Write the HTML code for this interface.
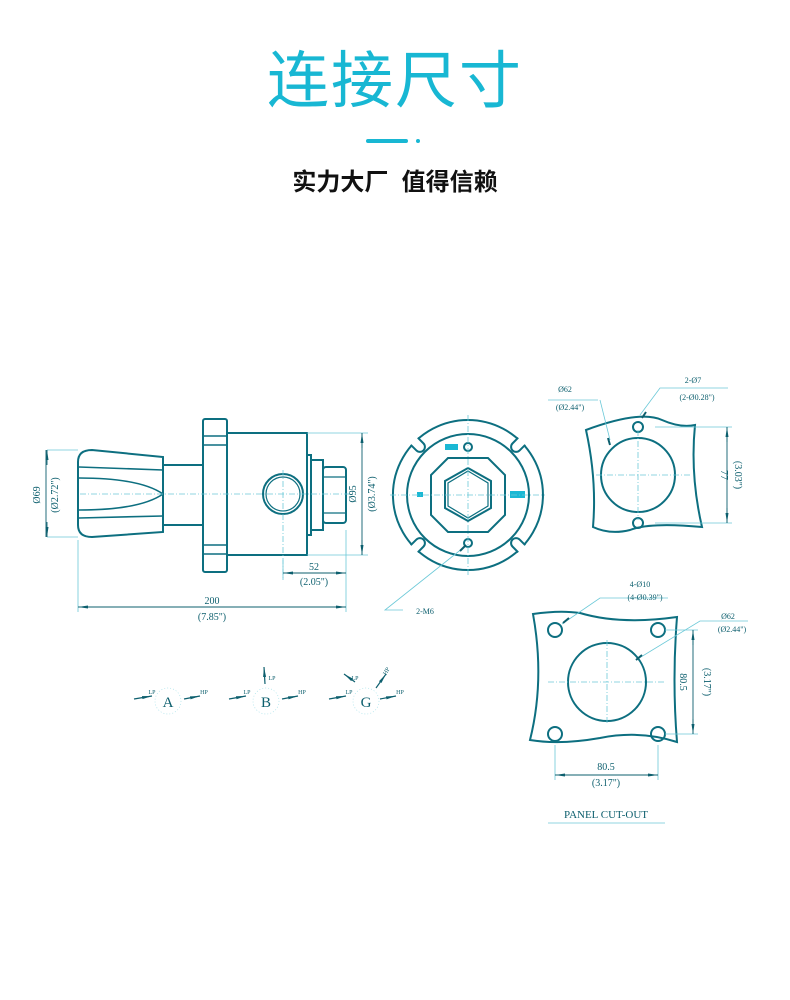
<!DOCTYPE html>
<html><head><meta charset="utf-8"><style>
html,body{margin:0;padding:0;background:#fff;}
body{width:790px;height:1000px;position:relative;overflow:hidden;}
.t{position:absolute;left:0;width:790px;text-align:center;font-family:"Liberation Sans","Noto Sans CJK SC",sans-serif;}
svg{position:absolute;left:0;top:0;}
</style></head><body>
<div class="t" style="top:46px;font-size:62px;color:#18b7d3;letter-spacing:2px;line-height:72px;">连接尺寸</div>
<div style="position:absolute;left:366px;top:139px;width:42px;height:4px;border-radius:2px;background:#18b7d3"></div>
<div style="position:absolute;left:416px;top:139px;width:4px;height:4px;border-radius:2px;background:#18b7d3"></div>
<div class="t" style="top:168px;font-size:24px;font-weight:bold;color:#111;line-height:30px;">实力大厂&nbsp;&nbsp;值得信赖</div>
<svg width="790" height="1000" viewBox="0 0 790 1000" font-family="Liberation Serif,serif" font-size="10" fill="none">
<defs>
<marker id="ar" viewBox="0 0 10 6" refX="10" refY="3" markerWidth="10" markerHeight="6" orient="auto-start-reverse" markerUnits="userSpaceOnUse"><path d="M0,1.5 L10,3 L0,4.5 Z" fill="#0d5f6e"/></marker>
</defs>
<g stroke="#0d6f80" stroke-width="2">
<path d="M163,457 L163,532 L92,537 Q78,537 78,525 L78,462 Q78,450 92,450 Z"/>
<path d="M79,467 L163,470 M79,518 L163,516 M79,478 Q140,478 163,494 Q140,510 79,510" stroke-width="1.6"/>
<rect x="163" y="465" width="40" height="60"/>
<rect x="203" y="419" width="24" height="153" rx="2"/>
<path d="M203,436 H227 M203,445 H227 M203,545 H227 M203,554 H227" stroke-width="1.6"/>
<rect x="227" y="433" width="80" height="122"/>
<circle cx="283" cy="494" r="20"/><circle cx="283" cy="494" r="17" stroke-width="1.2"/>
<rect x="307" y="455" width="4" height="80"/>
<rect x="311" y="460" width="12" height="70"/>
<rect x="323" y="467" width="23" height="56" rx="3"/>
<path d="M323,477 H346 M323,513 H346" stroke-width="1.2"/>
<path d="M468,420 A75,75 0 1 1 467.9,420 Z"/>
<circle cx="468" cy="495" r="61"/>
<path d="M448,458 L488,458 L505,475 L505,515 L488,532 L448,532 L431,515 L431,475 Z"/>
<path d="M468,468 L491,481 L491,508 L468,521 L445,508 L445,481 Z"/>
<path d="M468,471 L488,483 L488,506 L468,518 L448,506 L448,483 Z" stroke-width="1.2"/>
<circle cx="468" cy="447" r="4"/><circle cx="468" cy="543" r="4"/>
<path d="M586,430 Q640,410 662,420 Q680,428 695,425 Q690,475 702,527 Q650,522 630,530 Q610,535 593,527 Q597,480 586,430 Z"/>
<circle cx="638" cy="475" r="37"/>
<circle cx="638" cy="427" r="5"/><circle cx="638" cy="523" r="5"/>
<path d="M533,614 Q560,610 580,613 Q620,625 677,617 Q672,680 677,742 Q640,730 600,738 Q560,745 530,740 Q545,680 533,614 Z"/>
<circle cx="607" cy="682" r="39"/>
<circle cx="555" cy="630" r="7"/><circle cx="658" cy="630" r="7"/><circle cx="555" cy="734" r="7"/><circle cx="658" cy="734" r="7"/>
</g>
<g fill="#1ab8d4">
<rect x="445" y="444" width="13" height="6"/><rect x="417" y="492" width="6" height="5"/><rect x="510" y="491" width="15" height="7"/>
</g>
<g stroke="#6cc9d8" stroke-width="0.8">
<path d="M80,494 H350 M283,470 V580 M390,495 H545 M468,415 V575 M596,475 H690 M638,430 V520 M548,682 H665 M607,640 V725" stroke-dasharray="6,2,1,2"/>
<path d="M47,450 H78 M47,537 H78 M78,540 V612 M346,530 V612 M283,560 V580 M307,433 H368 M307,555 H368 M655,427 H732 M655,523 H732 M665,630 H698 M665,734 H698 M555,745 V780 M658,745 V780"/>
<path d="M463,548 L385,610 H403 M600,400 L610,440 M548,400 H598 M640,415 L660,388 H728 M562,624 L600,598 H668 M636,660 L700,621 H748 M548,823 H665"/>
</g>
<g stroke="#0d5f6e" stroke-width="0.9">
<line x1="47" y1="465" x2="47" y2="450" marker-end="url(#ar)"/><line x1="47" y1="522" x2="47" y2="537" marker-end="url(#ar)"/>
<line x1="362" y1="448" x2="362" y2="433" marker-end="url(#ar)"/><line x1="362" y1="540" x2="362" y2="555" marker-end="url(#ar)"/>
<line x1="300" y1="573" x2="283" y2="573" marker-end="url(#ar)"/><line x1="330" y1="573" x2="346" y2="573" marker-end="url(#ar)"/>
<line x1="95" y1="607" x2="78" y2="607" marker-end="url(#ar)"/><line x1="330" y1="607" x2="346" y2="607" marker-end="url(#ar)"/>
<line x1="727" y1="442" x2="727" y2="427" marker-end="url(#ar)"/><line x1="727" y1="508" x2="727" y2="523" marker-end="url(#ar)"/>
<line x1="693" y1="645" x2="693" y2="630" marker-end="url(#ar)"/><line x1="693" y1="719" x2="693" y2="734" marker-end="url(#ar)"/>
<line x1="571" y1="775" x2="555" y2="775" marker-end="url(#ar)"/><line x1="642" y1="775" x2="658" y2="775" marker-end="url(#ar)"/>
<path d="M46,450 V537 M362,433 V555 M283,573 H346 M78,607 H346 M727,427 V523 M693,630 V734 M555,775 H658"/>
<path d="M460,551 L466,545 M608,438 L610,445 M642,418 L646,412 M563,623 L569,618 M636,660 L642,655" stroke-width="2"/>
</g>
<g fill="#0d5f6e" text-anchor="middle">
<text transform="translate(40,495) rotate(-90)">Ø69</text>
<text transform="translate(58,495) rotate(-90)">(Ø2.72")</text>
<text transform="translate(356,494) rotate(-90)">Ø95</text>
<text transform="translate(375,494) rotate(-90)">(Ø3.74")</text>
<text x="314" y="570">52</text><text x="314" y="585">(2.05")</text>
<text x="212" y="604">200</text><text x="212" y="620">(7.85")</text>
<text x="425" y="614" font-size="8">2-M6</text>
<text x="565" y="392" font-size="8">Ø62</text><text x="570" y="410" font-size="8">(Ø2.44")</text>
<text x="693" y="383" font-size="8">2-Ø7</text><text x="697" y="400" font-size="8">(2-Ø0.28")</text>
<text transform="translate(721,475) rotate(90)">77</text>
<text transform="translate(735,475) rotate(90)">(3.03")</text>
<text x="640" y="587" font-size="8">4-Ø10</text><text x="645" y="600" font-size="8">(4-Ø0.39")</text>
<text x="728" y="619" font-size="8">Ø62</text><text x="732" y="632" font-size="8">(Ø2.44")</text>
<text transform="translate(680,682) rotate(90)">80.5</text>
<text transform="translate(704,682) rotate(90)">(3.17")</text>
<text x="606" y="770">80.5</text><text x="606" y="786">(3.17")</text>
<text x="606" y="818" font-size="11">PANEL CUT-OUT</text>
<text x="168" y="707" font-size="15">A</text>
<text x="266" y="707" font-size="15">B</text>
<text x="366" y="707" font-size="15">G</text>
<g font-size="6">
<text x="152" y="694">LP</text><text x="204" y="694">HP</text>
<text x="247" y="694">LP</text><text x="302" y="694">HP</text><text x="272" y="680">LP</text>
<text x="349" y="694">LP</text><text x="400" y="694">HP</text><text x="355" y="680">LP</text>
<text transform="translate(388,672) rotate(-60)">HP</text>
</g>
</g>
<g stroke="#0d5f6e" stroke-width="1.2">
<line x1="134" y1="699" x2="152" y2="696" marker-end="url(#ar)"/><line x1="184" y1="699" x2="200" y2="696" marker-end="url(#ar)"/>
<line x1="229" y1="699" x2="246" y2="696" marker-end="url(#ar)"/><line x1="282" y1="699" x2="298" y2="696" marker-end="url(#ar)"/>
<line x1="265" y1="684" x2="264" y2="667" marker-end="url(#ar)"/>
<line x1="329" y1="699" x2="346" y2="696" marker-end="url(#ar)"/><line x1="380" y1="699" x2="396" y2="696" marker-end="url(#ar)"/>
<line x1="355" y1="682" x2="344" y2="674" marker-end="url(#ar)"/><line x1="376" y1="688" x2="386" y2="674" marker-end="url(#ar)"/>
</g>
<g stroke="#a9e2ea" stroke-width="0.7" stroke-dasharray="1,2">
<circle cx="168" cy="701" r="13"/><circle cx="266" cy="701" r="13"/><circle cx="366" cy="701" r="13"/>
</g>
</svg>
<svg width="790" height="1000" style="pointer-events:none">
<g stroke="#0d6f80" stroke-width="2" fill="#fff">
<g transform="translate(468,495)">
<g transform="rotate(-45)"><path d="M-5,-76 L-5,-68 A5,5 0 0 0 5,-68 L5,-76" /><path d="M-4,-77 H4" stroke="#fff" stroke-width="3"/></g>
<g transform="rotate(45)"><path d="M-5,-76 L-5,-68 A5,5 0 0 0 5,-68 L5,-76" /><path d="M-4,-77 H4" stroke="#fff" stroke-width="3"/></g>
<g transform="rotate(135)"><path d="M-5,-76 L-5,-68 A5,5 0 0 0 5,-68 L5,-76" /><path d="M-4,-77 H4" stroke="#fff" stroke-width="3"/></g>
<g transform="rotate(225)"><path d="M-5,-76 L-5,-68 A5,5 0 0 0 5,-68 L5,-76" /><path d="M-4,-77 H4" stroke="#fff" stroke-width="3"/></g>
</g>
</g>
</svg>
</body></html>
